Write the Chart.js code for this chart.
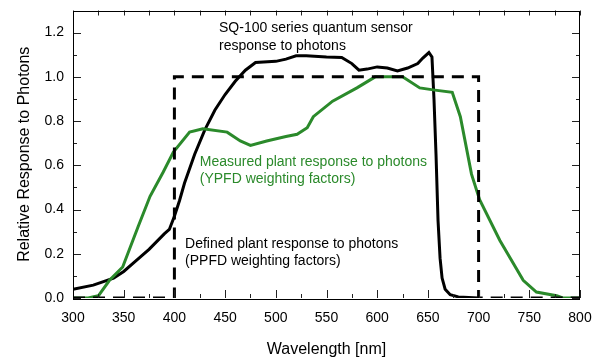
<!DOCTYPE html>
<html>
<head>
<meta charset="utf-8">
<script src="https://cdn.jsdelivr.net/npm/chart.js@4"></script>
<style>
  body { margin: 0; background: #fff; }
  #wrap { width: 596px; height: 362px; position: relative; }
</style>
</head>
<body>
<div id="wrap"><canvas id="chart"></canvas></div>
<script>
// Data
const sensorNm  = [300, 320, 340, 350, 360, 375, 390, 395, 400, 405, 410, 420, 430, 440, 450, 460, 470, 480, 500, 510, 520, 530, 550, 565, 575, 582, 590, 600, 610, 620, 630, 640, 645, 651, 654, 656, 658, 660, 662, 664, 667, 672, 680, 700];
const sensorVal = [0.04, 0.058, 0.09, 0.12, 0.16, 0.22, 0.29, 0.31, 0.37, 0.44, 0.52, 0.65, 0.76, 0.85, 0.92, 0.98, 1.03, 1.065, 1.07, 1.08, 1.095, 1.095, 1.09, 1.088, 1.06, 1.03, 1.035, 1.045, 1.04, 1.027, 1.04, 1.06, 1.085, 1.11, 1.09, 0.9, 0.65, 0.35, 0.18, 0.09, 0.04, 0.015, 0.005, 0];

const plantNm  = [300, 315, 325, 336, 349, 364, 376, 389, 399, 415, 428, 452, 465, 475, 491, 510, 521, 531, 537, 556, 580, 598, 625, 642, 657, 674, 682, 693, 701, 721, 744, 757, 777, 783, 800];
const plantVal = [0, 0, 0.01, 0.08, 0.14, 0.32, 0.46, 0.57, 0.66, 0.75, 0.765, 0.75, 0.71, 0.69, 0.71, 0.73, 0.74, 0.77, 0.82, 0.89, 0.95, 1.0, 1.0, 0.95, 0.94, 0.93, 0.82, 0.56, 0.445, 0.26, 0.08, 0.027, 0.01, 0, 0];

const ppfdNm  = [300, 400, 400, 700, 700, 800];
const ppfdVal = [0, 0, 1, 1, 0, 0];

const xTicks = [300, 350, 400, 450, 500, 550, 600, 650, 700, 750, 800];
const yTicks = [0, 0.2, 0.4, 0.6, 0.8, 1.0, 1.2];
const xMinor = [325, 375, 425, 475, 525, 575, 625, 675, 725, 775];
const yMinor = [0.1, 0.3, 0.5, 0.7, 0.9, 1.1, 1.3];

const green = '#2b8a2b';
const font = '"Liberation Sans", Arial, sans-serif';

// text notes: [nm, value, text, color]
const notes = [
  [444, 1.218, 'SQ-100 series quantum sensor', '#000'],
  [444, 1.141, 'response to photons', '#000'],
  [425, 0.614, 'Measured plant response to photons', green],
  [425, 0.536, '(YPFD weighting factors)', green],
  [410.5, 0.245, 'Defined plant response to photons', '#000'],
  [410.5, 0.168, '(PPFD weighting factors)', '#000']
];

function pts(xs, ys) {
  return xs.map((x, i) => ({ x: x, y: ys[i] }));
}

// frame, inward ticks on all four sides, and notes
const framePlugin = {
  id: 'frame',
  afterDraw(chart) {
    const ctx = chart.ctx;
    const { left, right, top, bottom } = chart.chartArea;
    const xs = chart.scales.x, ys = chart.scales.y;
    ctx.save();
    ctx.strokeStyle = '#222';
    ctx.lineWidth = 1;
    const tick = (x1, y1, x2, y2) => {
      ctx.beginPath(); ctx.moveTo(x1, y1); ctx.lineTo(x2, y2); ctx.stroke();
    };
    xTicks.forEach(v => {
      const p = Math.round(xs.getPixelForValue(v)) + 0.5;
      tick(p, bottom, p, bottom - 8); tick(p, top, p, top + 5);
    });
    xMinor.forEach(v => {
      const p = Math.round(xs.getPixelForValue(v)) + 0.5;
      tick(p, bottom, p, bottom - 4); tick(p, top, p, top + 5);
    });
    yTicks.forEach(v => {
      const p = Math.round(ys.getPixelForValue(v)) + 0.5;
      tick(left, p, left + 8, p); tick(right, p, right - 8, p);
    });
    yMinor.forEach(v => {
      const p = Math.round(ys.getPixelForValue(v)) + 0.5;
      tick(left, p, left + 4, p); tick(right, p, right - 4, p);
    });
    ctx.strokeStyle = '#000';
    ctx.strokeRect(Math.round(left) + 0.5, Math.round(top) + 0.5, Math.round(right - left) - 1, Math.round(bottom - top));

    ctx.font = '14px ' + font;
    ctx.textBaseline = 'middle';
    ctx.textAlign = 'left';
    notes.forEach(n => {
      ctx.fillStyle = n[3];
      ctx.fillText(n[2], xs.getPixelForValue(n[0]), ys.getPixelForValue(n[1]));
    });
    ctx.restore();
  }
};

new Chart(document.getElementById('chart'), {
  type: 'line',
  data: {
    datasets: [
      {
        label: 'PPFD',
        data: pts(ppfdNm, ppfdVal),
        borderColor: '#000',
        borderWidth: 3,
        borderDash: [12, 8],
        pointRadius: 0,
        tension: 0
      },
      {
        label: 'YPFD',
        data: pts(plantNm, plantVal),
        borderColor: green,
        borderWidth: 3,
        pointRadius: 0,
        tension: 0
      },
      {
        label: 'SQ-100',
        data: pts(sensorNm, sensorVal),
        borderColor: '#000',
        borderWidth: 3,
        pointRadius: 0,
        tension: 0
      }
    ]
  },
  options: {
    responsive: true,
    maintainAspectRatio: false,
    animation: false,
    layout: { padding: { top: 10.5, right: 16, left: 0, bottom: 0 } },
    plugins: { legend: { display: false }, tooltip: { enabled: false } },
    scales: {
      x: {
        type: 'linear',
        min: 300,
        max: 800,
        grid: { display: false, drawTicks: false },
        border: { display: false },
        afterBuildTicks: s => { s.ticks = xTicks.map(v => ({ value: v })); },
        afterFit: s => { s.height = 64; s.paddingLeft = 0; s.paddingRight = 0; },
        ticks: { color: '#000', padding: 12, maxRotation: 0, font: { family: font, size: 14 } },
        title: { display: true, text: 'Wavelength [nm]', color: '#000', padding: { top: 0, bottom: 3 }, font: { family: font, size: 16 } }
      },
      y: {
        min: 0,
        max: 1.3,
        grid: { display: false, drawTicks: false },
        border: { display: false },
        afterBuildTicks: s => { s.ticks = yTicks.map(v => ({ value: v })); },
        afterFit: s => { s.width = 73; s.paddingTop = 0; s.paddingBottom = 0; },
        ticks: { color: '#000', padding: 9, callback: v => v.toFixed(1), font: { family: font, size: 14 } },
        title: { display: true, text: 'Relative Response to Photons', color: '#000', padding: { top: 15, bottom: 0 }, font: { family: font, size: 16 } }
      }
    }
  },
  plugins: [framePlugin]
});
</script>
</body>
</html>
